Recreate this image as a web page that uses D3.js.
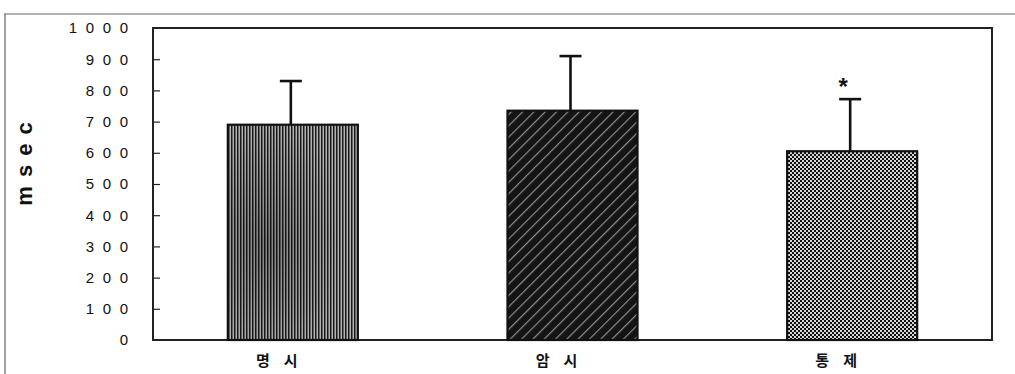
<!DOCTYPE html>
<html>
<head>
<meta charset="utf-8">
<script src="https://cdn.jsdelivr.net/npm/d3@7"></script>
<style>
  html, body { margin: 0; padding: 0; background: #fff; }
  svg { display: block; }
</style>
</head>
<body>
<svg id="chart" width="1015" height="374"></svg>
<script>
// Reaction time by condition (msec), mean with upper SD bar
const categories = ["명시", "암시", "통제"];
const means = [690, 735, 605];
const sds = [140, 175, 167];
const yTicks = [0, 100, 200, 300, 400, 500, 600, 700, 800, 900, 1000];
const marks = ["", "", "*"];

const svg = d3.select("#chart");
const W = 1015, H = 374;
const plot = { left: 153, right: 992, top: 28, bottom: 340 };

// Fill patterns for the three bars
const defs = svg.append("defs");

const pVert = defs.append("pattern")
  .attr("id", "vlines").attr("patternUnits", "userSpaceOnUse")
  .attr("width", 3).attr("height", 3);
pVert.append("rect").attr("width", 3).attr("height", 3).attr("fill", "#b4b4b4");
pVert.append("rect").attr("x", 0).attr("width", 1.5).attr("height", 3).attr("fill", "#1a1a1a");

// soft darker smudge over the striped bar
const smudge = defs.append("radialGradient").attr("id", "smudge")
  .attr("cx", "0.3").attr("cy", "0.55").attr("r", "0.6");
smudge.append("stop").attr("offset", "0").attr("stop-color", "#000").attr("stop-opacity", 0.28);
smudge.append("stop").attr("offset", "1").attr("stop-color", "#000").attr("stop-opacity", 0);

const pDiag = defs.append("pattern")
  .attr("id", "diag").attr("patternUnits", "userSpaceOnUse")
  .attr("width", 8).attr("height", 8)
  .attr("patternTransform", "rotate(-45)");
pDiag.append("rect").attr("width", 8).attr("height", 8).attr("fill", "#141414");
pDiag.append("rect").attr("x", 0).attr("y", 0).attr("width", 8).attr("height", 1.2)
  .attr("fill", "#8c8c8c");

const pCheck = defs.append("pattern")
  .attr("id", "check").attr("patternUnits", "userSpaceOnUse")
  .attr("width", 4).attr("height", 4);
pCheck.append("rect").attr("width", 4).attr("height", 4).attr("fill", "#d6d6d6");
pCheck.append("rect").attr("x", 0).attr("y", 0).attr("width", 2).attr("height", 2).attr("fill", "#111");
pCheck.append("rect").attr("x", 2).attr("y", 2).attr("width", 2).attr("height", 2).attr("fill", "#111");

const fills = ["url(#vlines)", "url(#diag)", "url(#check)"];

// Outer frame (top and left edges)
svg.append("line").attr("x1", 4).attr("x2", W).attr("y1", 14).attr("y2", 14)
  .attr("stroke", "#666").attr("stroke-width", 1.2);
svg.append("line").attr("x1", 5).attr("x2", 5).attr("y1", 14).attr("y2", H)
  .attr("stroke", "#666").attr("stroke-width", 1.2);

const x = d3.scaleBand()
  .domain(categories)
  .range([plot.left, plot.right])
  .paddingInner(0.535)
  .paddingOuter(0.2675);

const y = d3.scaleLinear().domain([0, 1000]).range([plot.bottom, plot.top]);

// Plot area border
svg.append("rect")
  .attr("x", plot.left).attr("y", plot.top)
  .attr("width", plot.right - plot.left).attr("height", plot.bottom - plot.top)
  .attr("fill", "none").attr("stroke", "#222").attr("stroke-width", 2);

// Y axis: inward ticks, spaced-out digits
const tickLs = 8.6;
const yAxis = d3.axisLeft(y).tickValues(yTicks).tickSize(-7).tickPadding(0)
  .tickFormat(d3.format("d"));
const gy = svg.append("g").attr("transform", `translate(${plot.left},0)`).call(yAxis);
gy.select(".domain").remove();
gy.selectAll(".tick line").attr("stroke", "#222").attr("stroke-width", 1.2)
  .filter(d => d === 0 || d === 1000).remove();
gy.selectAll(".tick text")
  .attr("x", -25 + tickLs)
  .attr("font-family", "Liberation Sans, Arial, sans-serif")
  .attr("font-size", 15)
  .attr("letter-spacing", tickLs)
  .attr("fill", "#111");

// Y axis title
svg.append("text")
  .attr("transform", "translate(32,164) rotate(-90)")
  .attr("text-anchor", "middle")
  .attr("font-family", "Liberation Sans, Arial, sans-serif")
  .attr("font-weight", "bold")
  .attr("font-size", 22)
  .attr("letter-spacing", 9)
  .attr("dx", 4.5)
  .attr("fill", "#111")
  .text("msec");

// Bars
const bars = svg.append("g");
categories.forEach((c, i) => {
  bars.append("rect")
    .attr("x", x(c)).attr("y", y(means[i]))
    .attr("width", x.bandwidth()).attr("height", y(0) - y(means[i]))
    .attr("fill", fills[i])
    .attr("stroke", "#111").attr("stroke-width", 2.2);
});
// smudge on the first bar
bars.append("rect")
  .attr("x", x(categories[0]) + 1).attr("y", y(means[0]) + 1)
  .attr("width", x.bandwidth() - 2).attr("height", y(0) - y(means[0]) - 2)
  .attr("fill", "url(#smudge)");

// Upper error bars
const errs = svg.append("g").attr("stroke", "#111").attr("stroke-width", 2.6);
categories.forEach((c, i) => {
  const cx = x(c) + x.bandwidth() / 2 - 2;
  errs.append("line").attr("x1", cx).attr("x2", cx)
    .attr("y1", y(means[i])).attr("y2", y(means[i] + sds[i]));
  errs.append("line").attr("x1", cx - 11).attr("x2", cx + 11)
    .attr("y1", y(means[i] + sds[i])).attr("y2", y(means[i] + sds[i]));
});

// Significance marks
categories.forEach((c, i) => {
  if (!marks[i]) return;
  svg.append("text")
    .attr("x", x(c) + x.bandwidth() / 2 - 9)
    .attr("y", y(means[i] + sds[i]) - 4)
    .attr("text-anchor", "middle")
    .attr("font-family", "Liberation Sans, Arial, sans-serif")
    .attr("font-weight", "bold")
    .attr("font-size", 24)
    .attr("fill", "#111")
    .text(marks[i]);
});

// Category labels, letter-spaced
const catLs = 14;
categories.forEach(c => {
  svg.append("text")
    .attr("x", x(c) + x.bandwidth() / 2 - 16 + catLs / 2)
    .attr("y", 366)
    .attr("text-anchor", "middle")
    .attr("font-family", "Noto Sans CJK KR, sans-serif")
    .attr("font-weight", "bold")
    .attr("font-size", 15)
    .attr("letter-spacing", catLs)
    .attr("fill", "#111")
    .text(c);
});
</script>
</body>
</html>
